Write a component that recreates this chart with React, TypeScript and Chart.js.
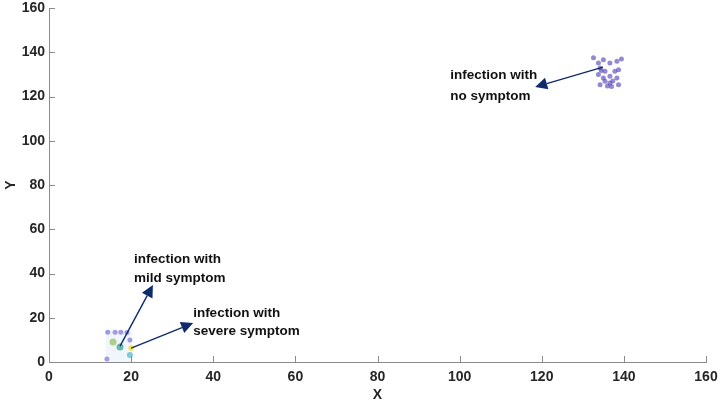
import React, { useEffect, useRef } from "react";
import { Chart, registerables } from "chart.js";

Chart.register(...registerables);

const xTicks = [0, 20, 40, 60, 80, 100, 120, 140, 160];
const yTicks = [0, 20, 40, 60, 80, 100, 120, 140, 160];

// infection with no symptom (top-right cluster)
const noSymX = [133.8, 135.0, 136.6, 138.3, 134.2, 135.4, 137.8, 138.7, 133.8, 135.0, 136.6, 138.3, 135.4, 136.6, 134.2, 138.7, 137.0, 132.6, 139.4, 136.0, 134.5, 137.3];
const noSymY = [135.1, 136.6, 135.1, 135.9, 132.9, 131.4, 131.4, 132.1, 129.9, 128.4, 129.1, 128.4, 126.9, 126.1, 125.3, 125.3, 124.5, 137.5, 137.0, 124.8, 131.8, 127.0];

// bottom-left cluster
const purpleX = [14.3, 16.1, 17.5, 19.0, 19.7, 14.1];
const purpleY = [13.5, 13.5, 13.5, 13.3, 9.9, 1.4];
const mildX = [15.6];
const mildY = [9.0];
const tealX = [17.3];
const tealY = [6.8];
const yellowX = [20.0];
const yellowY = [6.3];
const cyanX = [19.7];
const cyanY = [3.2];

// highlight region of the bottom-left cluster [x0, x1, y0, y1]
const boxRegion = [13.8, 20.3, 0, 14.5];

// arrows: [x0, y0, x1, y1]
const arrowNoSym = [134.9, 133.3, 118.4, 124.3];
const arrowMild = [17.3, 7.2, 25.3, 34.8];
const arrowSevere = [20.0, 6.3, 35.1, 17.6];

// annotation text: lines and anchor (left x, first line y, second line y)
const noSymLines = ["infection with", "no symptom"];
const noSymPos = [97.7, 129.7, 120.2];
const mildLines = ["infection with", "mild symptom"];
const mildPos = [20.7, 46.6, 38.0];
const severeLines = ["infection with", "severe symptom"];
const severePos = [35.1, 22.1, 14.0];

const toPts = (xs: number[], ys: number[]) => xs.map((x, i) => ({ x, y: ys[i] }));

const overlay = {
  id: "overlay",
  beforeDatasetsDraw(chart: any) {
    const { ctx, scales } = chart;
    const xs = scales.x;
    const ys = scales.y;
    const x0 = xs.getPixelForValue(boxRegion[0]);
    const x1 = xs.getPixelForValue(boxRegion[1]);
    const y0 = ys.getPixelForValue(boxRegion[2]);
    const y1 = ys.getPixelForValue(boxRegion[3]);
    ctx.save();
    ctx.fillStyle = "rgba(225,235,250,0.45)";
    ctx.fillRect(x0, y1, x1 - x0, y0 - y1);
    ctx.restore();
  },
  afterDraw(chart: any) {
    const { ctx, scales, chartArea } = chart;
    const xs = scales.x;
    const ys = scales.y;
    ctx.save();
    // inward ticks
    ctx.strokeStyle = "#8c8c8c";
    ctx.lineWidth = 1;
    xTicks.forEach((t) => {
      const px = Math.round(xs.getPixelForValue(t)) + 0.5;
      ctx.beginPath();
      ctx.moveTo(px, chartArea.bottom);
      ctx.lineTo(px, chartArea.bottom - 6);
      ctx.stroke();
    });
    yTicks.forEach((t) => {
      const py = Math.round(ys.getPixelForValue(t)) + 0.5;
      ctx.beginPath();
      ctx.moveTo(chartArea.left, py);
      ctx.lineTo(chartArea.left + 6, py);
      ctx.stroke();
    });

    const arrow = (a: number[]) => {
      const sx = xs.getPixelForValue(a[0]);
      const sy = ys.getPixelForValue(a[1]);
      const ex = xs.getPixelForValue(a[2]);
      const ey = ys.getPixelForValue(a[3]);
      const ang = Math.atan2(ey - sy, ex - sx);
      const hl = 12;
      const hw = 6;
      const bx = ex - hl * Math.cos(ang);
      const by = ey - hl * Math.sin(ang);
      ctx.strokeStyle = "#0f2a6b";
      ctx.fillStyle = "#0f2a6b";
      ctx.lineWidth = 1.4;
      ctx.beginPath();
      ctx.moveTo(sx, sy);
      ctx.lineTo(bx, by);
      ctx.stroke();
      ctx.beginPath();
      ctx.moveTo(ex, ey);
      ctx.lineTo(bx + hw * Math.sin(ang), by - hw * Math.cos(ang));
      ctx.lineTo(bx - hw * Math.sin(ang), by + hw * Math.cos(ang));
      ctx.closePath();
      ctx.fill();
    };
    arrow(arrowNoSym);
    arrow(arrowMild);
    arrow(arrowSevere);

    ctx.fillStyle = "#111111";
    ctx.font = "bold 13.5px 'Liberation Sans', Arial, sans-serif";
    ctx.textAlign = "left";
    ctx.textBaseline = "middle";
    const label = (lines: string[], pos: number[]) => {
      const lx = xs.getPixelForValue(pos[0]);
      ctx.fillText(lines[0], lx, ys.getPixelForValue(pos[1]));
      ctx.fillText(lines[1], lx, ys.getPixelForValue(pos[2]));
    };
    label(noSymLines, noSymPos);
    label(mildLines, mildPos);
    label(severeLines, severePos);
    ctx.restore();
  },
};

export default function App() {
  const ref = useRef<HTMLCanvasElement | null>(null);
  useEffect(() => {
    if (!ref.current) return;
    const font = { family: "'Liberation Sans', Arial, sans-serif", size: 14, weight: "bold" as const };
    const ds = (xs: number[], ys: number[], color: string, r: number) => ({
      data: toPts(xs, ys),
      backgroundColor: color,
      borderColor: "rgba(0,0,0,0)",
      borderWidth: 0,
      pointRadius: r,
    });
    const chart = new Chart(ref.current, {
      type: "scatter",
      data: {
        datasets: [
          ds(noSymX, noSymY, "rgba(75,60,180,0.6)", 2.5),
          ds(purpleX, purpleY, "rgba(95,80,200,0.55)", 2.5),
          ds(mildX, mildY, "rgba(150,195,100,0.75)", 3.5),
          ds(tealX, tealY, "rgba(70,170,150,0.8)", 3.5),
          ds(yellowX, yellowY, "rgba(245,225,60,0.9)", 2.8),
          ds(cyanX, cyanY, "rgba(90,190,210,0.75)", 3),
        ],
      },
      options: {
        animation: false,
        responsive: false,
        maintainAspectRatio: false,
        layout: { padding: { top: 8, right: 15, left: 3, bottom: 6 } },
        plugins: { legend: { display: false }, tooltip: { enabled: false } },
        scales: {
          x: {
            type: "linear",
            min: 0,
            max: 160,
            afterFit: (s: any) => { s.height = 42; s.paddingLeft = 0; s.paddingRight = 0; },
            afterBuildTicks: (s: any) => { s.ticks = xTicks.map((v) => ({ value: v })); },
            grid: { display: false, drawTicks: false },
            border: { display: true, color: "#8c8c8c", width: 1 },
            ticks: { color: "#262626", font, padding: 7, maxRotation: 0 },
            title: { display: true, text: "X", color: "#262626", font: { ...font, size: 14 }, padding: { top: 0, bottom: 0 } },
          },
          y: {
            type: "linear",
            min: 0,
            max: 160,
            afterFit: (s: any) => { s.width = 46; s.paddingTop = 0; s.paddingBottom = 0; },
            afterBuildTicks: (s: any) => { s.ticks = yTicks.map((v) => ({ value: v })); },
            grid: { display: false, drawTicks: false },
            border: { display: true, color: "#8c8c8c", width: 1 },
            ticks: { color: "#262626", font, padding: 4 },
            title: { display: true, text: "Y", color: "#262626", font: { ...font, size: 14 }, padding: { top: 0, bottom: 0 } },
          },
        },
      },
      plugins: [overlay],
    });
    return () => chart.destroy();
  }, []);
  return (
    <div style={{ position: "fixed", left: 0, top: 0, width: 721, height: 410, background: "#fff" }}>
      <canvas ref={ref} width={721} height={410} style={{ display: "block" }} />
    </div>
  );
}
